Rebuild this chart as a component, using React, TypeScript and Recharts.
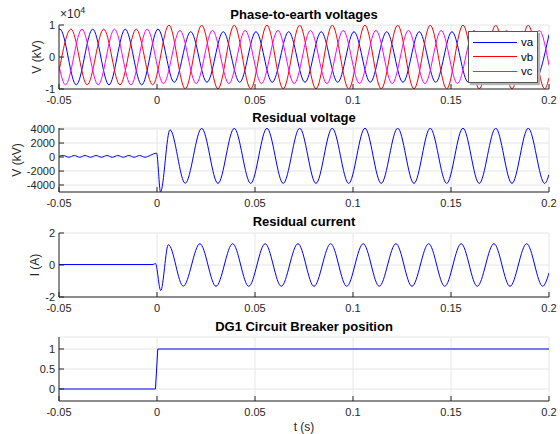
import { LineChart, Line, XAxis, YAxis, CartesianGrid, Legend } from 'recharts';

const FONT = '"Liberation Sans", Arial, Helvetica, sans-serif';
const AXIS = '#262626';
const GRID = '#e6e6e6';

const timeTicks = [-0.05, 0, 0.05, 0.1, 0.15, 0.2];

// phase-to-earth voltages: turning points
const vaTime = [-0.05, -0.0495, -0.0412, -0.0328, -0.0245, -0.0162, -0.0078, 0.0005, 0.0088, 0.0172, 0.0255, 0.0338, 0.0422, 0.0505, 0.0588, 0.0672, 0.0755, 0.0838, 0.0922, 0.1005, 0.1088, 0.1172, 0.1255, 0.1338, 0.1422, 0.1505, 0.1588, 0.1672, 0.1755, 0.1838, 0.1922, 0.2];
const vaVolt = [8650, 8700, -8700, 8700, -8700, 8700, -8700, 8700, -7900, 7900, -7900, 7900, -7900, 7900, -7900, 7900, -7900, 7900, -7900, 7900, -7900, 7900, -7900, 7900, -7900, 7900, -7900, 7900, -7900, 7900, -7900, 7000];

const vbTime = [-0.05, -0.0439, -0.0356, -0.0272, -0.0189, -0.0106, -0.0022, 0.0061, 0.0144, 0.0228, 0.0311, 0.0394, 0.0478, 0.0561, 0.0644, 0.0728, 0.0811, 0.0894, 0.0978, 0.1061, 0.1144, 0.1228, 0.1311, 0.1394, 0.1478, 0.1561, 0.1644, 0.1728, 0.1811, 0.1894, 0.1978, 0.2];
const vbVolt = [-4500, 8700, -8700, 8700, -8700, 8700, -8700, 9950, -9950, 9950, -9950, 9950, -9950, 9950, -9950, 9950, -9950, 9950, -9950, 9950, -9950, 9950, -9950, 9950, -9950, 9950, -9950, 9950, -9950, 9950, -9950, -6500];

const vcTime = [-0.05, -0.0467, -0.0383, -0.03, -0.0217, -0.0133, -0.005, 0.0033, 0.0117, 0.02, 0.0283, 0.0367, 0.045, 0.0533, 0.0617, 0.07, 0.0783, 0.0867, 0.095, 0.1033, 0.1117, 0.12, 0.1283, 0.1367, 0.145, 0.1533, 0.1617, 0.17, 0.1783, 0.1867, 0.195, 0.2];
const vcVolt = [-2800, -8700, 8700, -8700, 8700, -8700, 8700, -8300, 8300, -8300, 8300, -8300, 8300, -8300, 8300, -8300, 8300, -8300, 8300, -8300, 8300, -8300, 8300, -8300, 8300, -8300, 8300, -8300, 8300, -8300, 8300, -2600];

// residual voltage
const vrTime = [-0.05, -0.0478, -0.045, -0.0422, -0.0394, -0.0367, -0.0339, -0.0311, -0.0283, -0.0256, -0.0228, -0.02, -0.0172, -0.0144, -0.0117, -0.0089, -0.0061, -0.0033, -0.0002, 0.0018, 0.0066, 0.0144, 0.0228, 0.0311, 0.0394, 0.0478, 0.0561, 0.0644, 0.0728, 0.0811, 0.0894, 0.0978, 0.1061, 0.1144, 0.1228, 0.1311, 0.1394, 0.1478, 0.1561, 0.1644, 0.1728, 0.1811, 0.1894, 0.1978, 0.2];
const vrVolt = [100, 220, -30, 220, -30, 220, -30, 220, -30, 220, -30, 220, -30, 220, -30, 220, -30, 260, 560, -5000, 3900, -3750, 4100, -3770, 4100, -3770, 4100, -3770, 4120, -3770, 4120, -3770, 4120, -3770, 4120, -3770, 4120, -3770, 4120, -3770, 4120, -3770, 4120, -3770, -2500];

// residual current
const irTime = [-0.05, -0.002, -0.0008, 0.0019, 0.0058, 0.0134, 0.0219, 0.0301, 0.0386, 0.0468, 0.0552, 0.0634, 0.0719, 0.0801, 0.0886, 0.0968, 0.1052, 0.1134, 0.1219, 0.1301, 0.1386, 0.1468, 0.1552, 0.1634, 0.1719, 0.1801, 0.1886, 0.1968, 0.2];
const irAmp = [0.03, 0.03, 0.1, -1.6, 1.27, -1.32, 1.33, -1.33, 1.33, -1.33, 1.33, -1.33, 1.33, -1.33, 1.33, -1.33, 1.33, -1.33, 1.33, -1.33, 1.33, -1.33, 1.33, -1.33, 1.33, -1.33, 1.33, -1.33, -0.5];

// breaker position
const cbTime = [-0.05, -0.0008, 0.0004, 0.2];
const cbState = [0, 0, 1, 1];

const zip = (ts: number[], vs: number[]) => ts.map((t, i) => ({ t, v: vs[i] }));

const tickStyle = { fill: AXIS, fontSize: 11, fontFamily: FONT };

function yLabel(text: string, x: number) {
  return () => (
    <text x={x} y={37} transform={`rotate(-90 ${x} 37)`} textAnchor="middle" fontSize={12} fill={AXIS} fontFamily={FONT}>
      {text}
    </text>
  );
}

function renderLegend(props: any) {
  const items = props.payload || [];
  return (
    <div style={{ width: 68, height: 47, border: '1px solid #555', background: '#fff', boxShadow: '2px 2px 1px #b4b4b4', fontFamily: FONT, fontSize: 11.5, paddingTop: 3, boxSizing: 'content-box' }}>
      {items.map((e: any) => (
        <div key={e.value} style={{ display: 'flex', alignItems: 'center', height: 14.5 }}>
          <span style={{ display: 'inline-block', marginLeft: 4, width: 44, borderTop: `1px solid ${e.color}` }} />
          <span style={{ marginLeft: 4, color: '#000' }}>{e.value}</span>
        </div>
      ))}
    </div>
  );
}

function Panel(props: any) {
  const { top, height = 89, xHeight = 20, yDomain, yTicks, yFormat, label, children } = props;
  return (
    <div style={{ position: 'absolute', left: 0, top }}>
      <LineChart width={560} height={height} margin={{ top: 5, right: 11, bottom: 0, left: 0 }}>
        <CartesianGrid stroke={GRID} />
        <XAxis dataKey="t" type="number" domain={[-0.05, 0.2]} ticks={timeTicks} allowDataOverflow interval={0}
          height={xHeight} stroke={AXIS} tickSize={-5} tickMargin={12} tick={tickStyle} />
        <XAxis xAxisId="top" orientation="top" type="number" domain={[-0.05, 0.2]} ticks={timeTicks}
          allowDataOverflow interval={0} height={0} stroke={AXIS} tickSize={-5} tick={false} />
        <YAxis type="number" domain={yDomain} ticks={yTicks} allowDataOverflow interval={0} width={59} stroke={AXIS}
          tickSize={-5} tickMargin={9} tick={tickStyle} tickFormatter={yFormat} label={label} />
        <YAxis yAxisId="right" orientation="right" type="number" domain={yDomain} ticks={yTicks}
          allowDataOverflow interval={0} width={0} stroke={AXIS} tickSize={-5} tick={false} />
        {children}
      </LineChart>
    </div>
  );
}

const titleStyle = (top: number) => ({
  position: 'absolute' as const, left: 59, width: 490, top, textAlign: 'center' as const,
  fontSize: 13, lineHeight: '13px', fontWeight: 'bold' as const, color: '#000',
});

export default function App() {
  return (
    <div style={{ position: 'absolute', left: 0, top: 0, width: 560, height: 434, background: '#fff', fontFamily: FONT }}>
      <div style={titleStyle(7.5)}>Phase-to-earth voltages</div>
      <div style={{ position: 'absolute', left: 60, top: 6, color: AXIS, lineHeight: '14px' }}>
        <span style={{ fontSize: 12 }}>×10</span>
        <span style={{ fontSize: 9, position: 'relative', top: -5 }}>4</span>
      </div>
      <Panel top={20} yDomain={[-10000, 10000]} yTicks={[-10000, 0, 10000]}
        yFormat={(v: number) => String(v / 10000)} label={yLabel('V (kV)', 41)}>
        <Line data={zip(vaTime, vaVolt)} dataKey="v" name="va" type="monotone" stroke="#0000ff" strokeWidth={1} dot={false} activeDot={false} isAnimationActive={false} />
        <Line data={zip(vbTime, vbVolt)} dataKey="v" name="vb" type="monotone" stroke="#ff0000" strokeWidth={1} dot={false} activeDot={false} isAnimationActive={false} />
        <Line data={zip(vcTime, vcVolt)} dataKey="v" name="vc" type="monotone" stroke="#ff00ff" strokeWidth={1} dot={false} activeDot={false} isAnimationActive={false} />
        <Legend layout="horizontal" align="center" verticalAlign="middle"
          wrapperStyle={{ top: 11, left: 468, width: 70, height: 51 }} content={renderLegend} />
      </Panel>

      <div style={titleStyle(111)}>Residual voltage</div>
      <Panel top={123} yDomain={[-5000, 4150]} yTicks={[-4000, -2000, 0, 2000, 4000]} label={yLabel('V (kV)', 21)}>
        <Line data={zip(vrTime, vrVolt)} dataKey="v" name="vr" type="monotone" stroke="#0000ff" strokeWidth={1} dot={false} activeDot={false} isAnimationActive={false} />
      </Panel>

      <div style={titleStyle(215)}>Residual current</div>
      <Panel top={228} yDomain={[-2, 2]} yTicks={[-2, 0, 2]} label={yLabel('I (A)', 39)}>
        <Line data={zip(irTime, irAmp)} dataKey="v" name="ir" type="monotone" stroke="#0000ff" strokeWidth={1} dot={false} activeDot={false} isAnimationActive={false} />
      </Panel>

      <div style={titleStyle(319.5)}>DG1 Circuit Breaker position</div>
      <Panel top={332} height={109} xHeight={40} yDomain={[-0.3, 1.3]} yTicks={[0, 0.5, 1]}>
        <Line data={zip(cbTime, cbState)} dataKey="v" name="cb" type="linear" stroke="#0000ff" strokeWidth={1} dot={false} activeDot={false} isAnimationActive={false} />
      </Panel>
      <div style={{ position: 'absolute', left: 59, width: 490, top: 420.5, textAlign: 'center', fontSize: 12, lineHeight: '13px', color: AXIS }}>t (s)</div>
    </div>
  );
}
